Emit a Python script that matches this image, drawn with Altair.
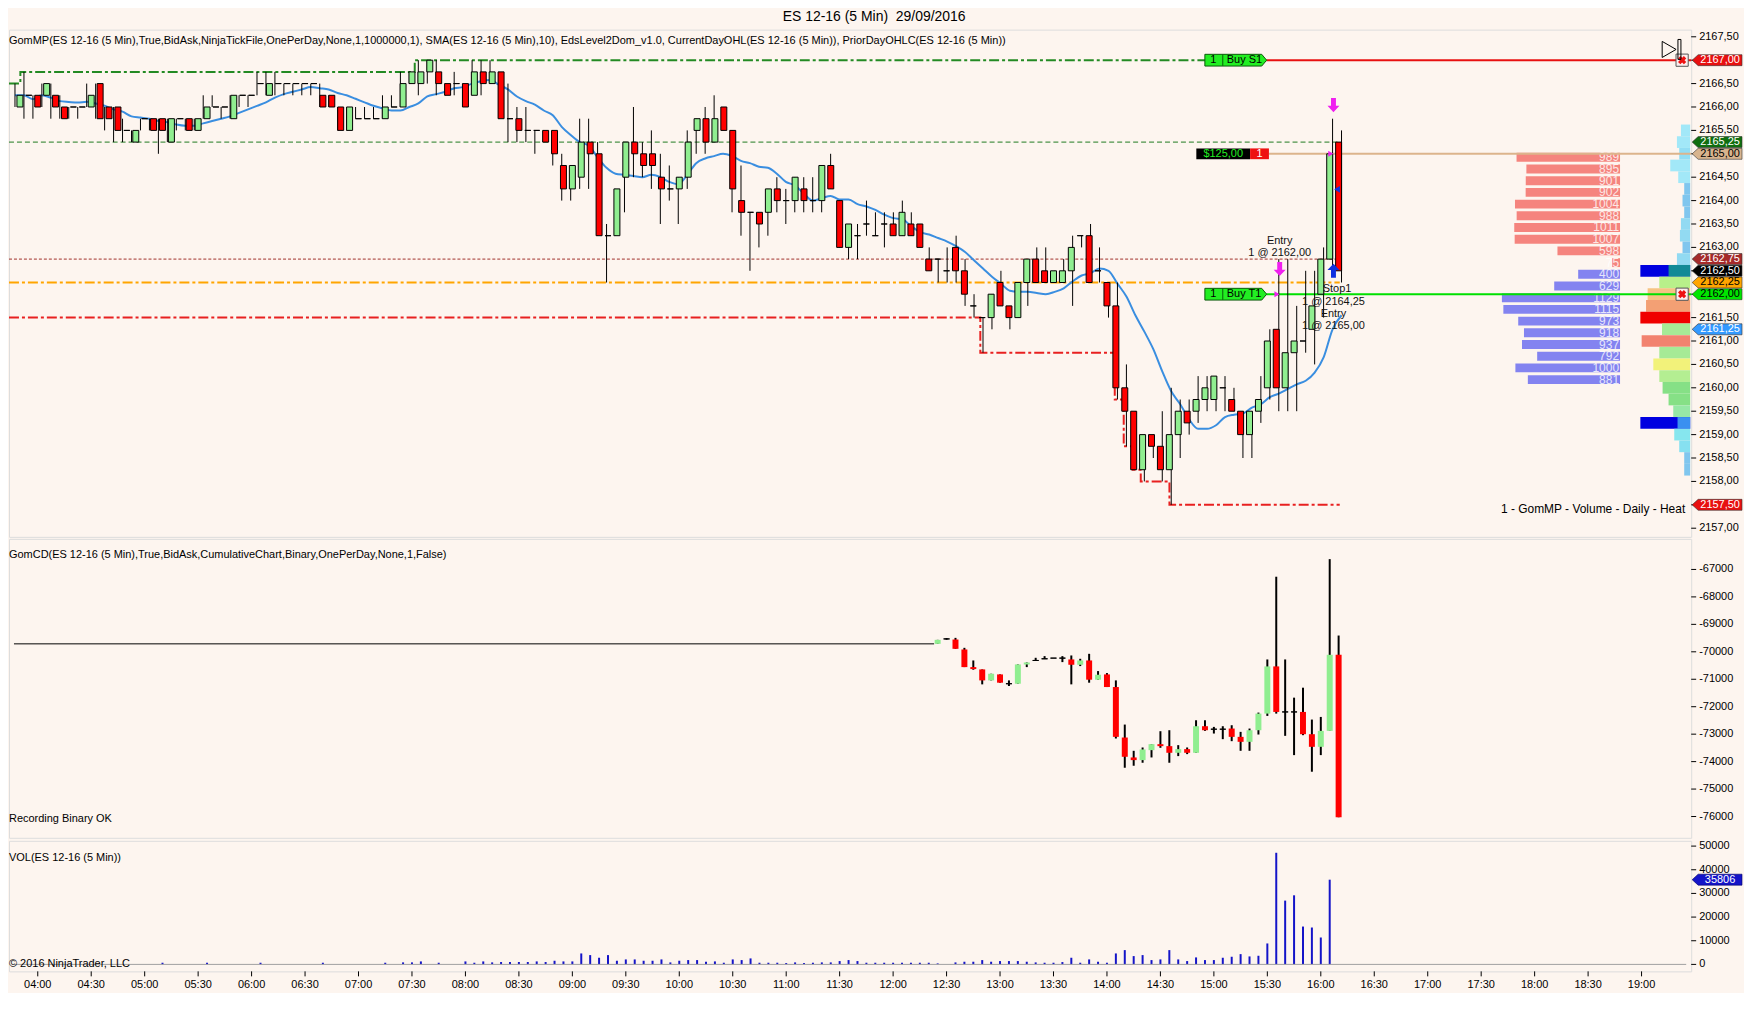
import altair as alt
import pandas as pd

# ------------------------------------------------------------------ data
TITLE = "ES 12-16 (5 Min)\u00a0 29/09/2016"
FIRST_BAR = -2          # first candle = 03:50 ; bar index 0 = 04:00, one bar = 5 minutes

price_open = [
    2166.0, 2166.25, 2166.25, 2166.25, 2166.25, 2166.0, 2166.0, 2166.0, 2166.0, 2166.5,
    2166.0, 2166.0, 2165.5, 2165.25, 2165.75, 2165.75, 2165.75, 2165.25, 2165.75, 2165.75,
    2165.5, 2165.75, 2166.0, 2166.0, 2165.75, 2166.25, 2166.25, 2166.5, 2166.25, 2166.5,
    2166.5, 2166.5, 2166.5, 2166.5, 2166.25, 2166.25, 2166.0, 2165.5, 2165.75, 2165.75,
    2165.75, 2165.75, 2166.0, 2166.0, 2166.5, 2166.5, 2166.75, 2166.75, 2166.5, 2166.5,
    2166.5, 2166.25, 2166.75, 2166.5, 2166.75, 2165.75, 2165.75, 2165.5, 2165.5, 2165.5,
    2165.5, 2164.75, 2164.25, 2164.5, 2165.25, 2165.0, 2163.25, 2163.25, 2164.5, 2165.25,
    2165.0, 2165.0, 2164.5, 2164.25, 2164.25, 2164.5, 2165.5, 2165.75, 2165.25, 2166.0,
    2165.5, 2164.0, 2163.75, 2163.75, 2163.75, 2164.25, 2164.0, 2164.0, 2164.25, 2164.0,
    2164.0, 2164.75, 2164.0, 2163.0, 2163.25, 2163.5, 2163.25, 2163.5, 2163.5, 2163.25,
    2163.5, 2163.5, 2162.75, 2162.75, 2162.5, 2163.0, 2162.5, 2161.75, 2161.5, 2161.5,
    2162.25, 2161.75, 2161.5, 2162.25, 2162.75, 2162.5, 2162.25, 2162.25, 2162.5, 2163.25,
    2163.25, 2162.5, 2162.25, 2161.75, 2160.0, 2159.5, 2158.25, 2159.0, 2158.75, 2158.25,
    2159.0, 2159.5, 2159.5, 2159.75, 2159.75, 2160.0, 2159.75, 2159.5, 2159.0, 2159.5,
    2160.0, 2161.25, 2160.0, 2160.75, 2161.0, 2161.25, 2162.0, 2162.75, 2165.25,
]
price_high = [
    2166.5, 2166.75, 2166.25, 2166.5, 2166.5, 2166.25, 2166.0, 2166.0, 2166.5, 2166.5,
    2166.0, 2166.0, 2165.75, 2165.5, 2165.75, 2165.75, 2165.75, 2165.75, 2165.75, 2165.75,
    2165.75, 2166.25, 2166.25, 2166.0, 2166.25, 2166.25, 2166.25, 2166.75, 2166.75, 2166.75,
    2166.5, 2166.5, 2166.5, 2166.5, 2166.5, 2166.25, 2166.0, 2166.0, 2166.0, 2166.0,
    2166.0, 2166.25, 2166.25, 2166.75, 2166.75, 2167.0, 2167.0, 2167.0, 2166.5, 2166.75,
    2166.5, 2167.0, 2167.0, 2167.0, 2166.75, 2166.5, 2166.0, 2166.0, 2165.5, 2165.5,
    2165.5, 2165.0, 2164.75, 2165.75, 2165.75, 2165.25, 2163.5, 2164.25, 2165.25, 2166.0,
    2165.25, 2165.5, 2165.0, 2164.75, 2164.5, 2165.5, 2165.75, 2166.0, 2166.25, 2166.0,
    2165.5, 2164.75, 2163.75, 2163.75, 2164.25, 2164.5, 2164.25, 2164.5, 2164.5, 2164.5,
    2164.75, 2165.0, 2164.0, 2163.5, 2163.5, 2164.0, 2163.75, 2163.75, 2163.75, 2164.0,
    2163.75, 2163.5, 2163.0, 2162.75, 2163.0, 2163.25, 2162.75, 2162.0, 2161.5, 2162.0,
    2162.5, 2161.75, 2162.25, 2162.75, 2163.0, 2163.0, 2162.5, 2162.75, 2163.25, 2163.25,
    2163.5, 2163.0, 2162.25, 2162.25, 2160.5, 2159.5, 2159.0, 2159.0, 2159.5, 2160.0,
    2159.75, 2159.75, 2160.25, 2160.25, 2160.25, 2160.25, 2160.0, 2159.5, 2159.5, 2160.25,
    2161.25, 2162.75, 2162.75, 2161.75, 2162.5, 2162.5, 2163.0, 2165.75, 2165.5,
]
price_low = [
    2166.0, 2165.75, 2165.75, 2166.0, 2165.75, 2165.75, 2165.75, 2165.75, 2166.0, 2165.75,
    2165.5, 2165.25, 2165.25, 2165.25, 2165.5, 2165.5, 2165.0, 2165.25, 2165.5, 2165.5,
    2165.5, 2165.75, 2166.0, 2165.75, 2165.75, 2166.0, 2166.0, 2166.25, 2166.25, 2166.25,
    2166.25, 2166.25, 2166.25, 2166.25, 2166.0, 2166.0, 2165.5, 2165.5, 2165.75, 2165.75,
    2165.75, 2165.75, 2166.0, 2166.0, 2166.5, 2166.25, 2166.5, 2166.25, 2166.25, 2166.25,
    2166.0, 2166.25, 2166.25, 2166.5, 2165.75, 2165.25, 2165.25, 2165.25, 2165.0, 2165.25,
    2164.75, 2164.0, 2164.0, 2164.25, 2164.25, 2163.25, 2162.25, 2163.25, 2163.75, 2164.5,
    2164.5, 2164.25, 2163.5, 2164.0, 2163.5, 2164.25, 2165.0, 2165.0, 2165.25, 2165.5,
    2163.75, 2163.25, 2162.5, 2163.0, 2163.25, 2163.75, 2163.5, 2163.75, 2163.75, 2163.75,
    2163.75, 2164.25, 2163.0, 2162.75, 2162.75, 2163.25, 2163.25, 2163.0, 2163.25, 2163.25,
    2163.25, 2163.0, 2162.5, 2162.25, 2162.25, 2162.25, 2161.75, 2161.5, 2160.75, 2161.25,
    2161.75, 2161.25, 2161.5, 2161.75, 2162.25, 2162.25, 2162.25, 2162.25, 2161.75, 2163.0,
    2162.25, 2162.25, 2161.5, 2159.75, 2158.75, 2158.25, 2158.0, 2158.5, 2158.0, 2157.5,
    2158.5, 2159.0, 2159.25, 2159.5, 2159.5, 2159.5, 2159.5, 2158.5, 2158.5, 2159.25,
    2159.75, 2159.5, 2159.5, 2159.5, 2160.75, 2160.5, 2161.5, 2162.5, 2162.25,
]
price_close = [
    2166.25, 2166.25, 2166.0, 2166.5, 2166.0, 2165.75, 2166.0, 2166.0, 2166.25, 2165.75,
    2165.75, 2165.5, 2165.5, 2165.5, 2165.75, 2165.5, 2165.5, 2165.75, 2165.75, 2165.5,
    2165.75, 2166.0, 2166.0, 2166.0, 2166.25, 2166.25, 2166.25, 2166.5, 2166.5, 2166.5,
    2166.5, 2166.5, 2166.5, 2166.5, 2166.0, 2166.0, 2165.5, 2166.0, 2165.75, 2165.75,
    2165.75, 2166.0, 2166.0, 2166.5, 2166.75, 2166.75, 2167.0, 2166.5, 2166.25, 2166.5,
    2166.0, 2166.75, 2166.5, 2166.75, 2165.75, 2165.75, 2165.5, 2165.5, 2165.5, 2165.25,
    2165.0, 2164.25, 2164.75, 2165.25, 2165.0, 2163.25, 2163.25, 2164.25, 2165.25, 2165.0,
    2164.75, 2164.75, 2164.25, 2164.25, 2164.5, 2165.25, 2165.75, 2165.25, 2165.75, 2165.5,
    2164.25, 2163.75, 2163.75, 2163.5, 2164.25, 2164.0, 2164.0, 2164.5, 2164.0, 2164.0,
    2164.75, 2164.25, 2163.0, 2163.5, 2163.25, 2163.5, 2163.25, 2163.5, 2163.25, 2163.75,
    2163.25, 2163.0, 2162.5, 2162.75, 2162.5, 2162.5, 2162.0, 2161.75, 2161.5, 2162.0,
    2161.75, 2161.5, 2162.25, 2162.75, 2162.25, 2162.25, 2162.5, 2162.5, 2163.0, 2163.25,
    2162.25, 2162.5, 2161.75, 2160.0, 2159.5, 2158.25, 2159.0, 2158.75, 2158.25, 2159.0,
    2159.5, 2159.25, 2159.75, 2160.0, 2160.25, 2160.0, 2159.5, 2159.0, 2159.5, 2159.75,
    2161.0, 2160.0, 2160.75, 2161.0, 2161.0, 2161.75, 2162.75, 2165.0, 2162.5,
]

# cumulative delta (GomCD) candles, recorded from bar 101 on
CD_FIRST_BAR = 101
cd_open = [
    -69710, -69530, -69552, -69915, -70557, -70641, -71041, -70823, -71162, -71162,
    -70460, -70315, -70254, -70230, -70230, -70278, -70472, -70315, -71016, -70823,
    -71283, -73122, -73848, -73945, -73582, -73364, -73436, -73678, -73545, -73678,
    -72710, -72819, -72819, -72795, -73098, -73279, -72856, -72251, -70532, -72190,
    -72190, -72190, -73001, -73461, -72880, -70109,
]
cd_high = [
    -69564, -69500, -69492, -69855, -70315, -70641, -70799, -70823, -71041, -70460,
    -70387, -70218, -70157, -70230, -70157, -70133, -70254, -70073, -70702, -70774,
    -71041, -72650, -73606, -73485, -73364, -72892, -72856, -73400, -73485, -72493,
    -72493, -72735, -72710, -72674, -72916, -72795, -72214, -70278, -67265, -70278,
    -71670, -71307, -72468, -72372, -66624, -69407,
]
cd_low = [
    -69710, -69560, -69891, -70557, -70653, -71186, -71041, -71125, -71246, -71162,
    -70557, -70315, -70254, -70230, -70375, -71186, -70520, -71125, -71016, -71283,
    -73158, -74223, -74150, -74041, -73848, -73497, -74041, -73799, -73727, -73678,
    -72880, -72977, -73182, -73255, -73606, -73606, -73013, -72335, -72251, -73061,
    -73763, -73037, -74368, -73763, -72880, -76026,
]
cd_close = [
    -69564, -69530, -69891, -70557, -70629, -71041, -70799, -71125, -71162, -70460,
    -70387, -70315, -70254, -70230, -70230, -70472, -70315, -71016, -70835, -71283,
    -73098, -73824, -73945, -73557, -73364, -73436, -73678, -73545, -73678, -72710,
    -72856, -72819, -72819, -73098, -73279, -72856, -72251, -70532, -72190, -72190,
    -72190, -73001, -73461, -72880, -70109, -76026,
]
cd_pre_level = -69710     # flat value before recording starts
cd_pre_end = 100.6

volume = [
    0, 0, 0, 0, 0, 0, 0, 0, 0, 0,
    0, 0, 0, 0, 0, 0, 700, 0, 0, 0,
    0, 700, 0, 0, 0, 0, 0, 700, 0, 0,
    0, 0, 0, 0, 700, 0, 0, 0, 0, 0,
    0, 700, 0, 850, 850, 1260, 0, 700, 0, 0,
    1260, 700, 1260, 850, 1000, 1000, 1000, 1000, 1260, 1000,
    1540, 1260, 1260, 4630, 3930, 2810, 3930, 1540, 2100, 2100,
    1540, 1540, 2106, 842, 1545, 1825, 1825, 1123, 1263, 702,
    2106, 1825, 2527, 702, 702, 702, 562, 842, 562, 702,
    842, 842, 1404, 1825, 1404, 702, 702, 702, 702, 702,
    702, 702, 702, 421, 0, 842, 1123, 1123, 1825, 1123,
    1404, 1404, 1404, 1123, 842, 702, 702, 983, 2808, 702,
    2106, 1123, 702, 4633, 6037, 3510, 3931, 1825, 2106, 6037,
    2106, 1404, 2949, 1825, 1825, 2808, 3229, 4340, 3370, 3650,
    8850, 47180, 26960, 29200, 16000, 15590, 11370, 35806, 0,
]

# level-2 ladder (EdsLevel2Dom)
ask_prices = [2165.0, 2164.75, 2164.5, 2164.25, 2164.0, 2163.75, 2163.5, 2163.25, 2163.0, 2162.75]
ask_sizes = [989, 895, 901, 902, 1004, 988, 1011, 1007, 598, 75]
bid_prices = [2162.5, 2162.25, 2162.0, 2161.75, 2161.5, 2161.25, 2161.0, 2160.75, 2160.5, 2160.25]
bid_sizes = [400, 629, 1129, 1115, 973, 918, 937, 792, 1000, 881]

# daily volume profile (GomMP heat)
heat_prices = [2165.5, 2165.25, 2165.0, 2164.75, 2164.5, 2164.25, 2164.0, 2163.75, 2163.5, 2163.25,
               2163.0, 2162.75, 2162.5, 2162.25, 2162.0, 2161.75, 2161.5, 2161.25, 2161.0, 2160.75,
               2160.5, 2160.25, 2160.0, 2159.75, 2159.5, 2159.25, 2159.0, 2158.75, 2158.5, 2158.25]
heat_volume = [930, 1330, 1100, 2000, 1200, 600, 770, 600, 930, 1030,
               770, 1330, 2170, 3100, 4270, 4430, 5000, 2830, 4870, 3100,
               3700, 3100, 2770, 2170, 1700, 1270, 1600, 1100, 600, 600]
heat_colors = ["#a2e8f8", "#a2e8f8", "#92def4", "#a2e8f8", "#a2e8f8", "#80c6ee", "#80c6ee", "#80c6ee", "#92daf2", "#92daf2",
               "#80c6ee", "#92daf2", "#128a96", "#b8f08a", "#f6c383", "#f3a074", "#f00000", "#a6ea96", "#f2826f", "#a6ea96",
               "#f2f27a", "#b4ee92", "#86e086", "#86e086", "#96e8a6", "#3a90f0", "#86e6ee", "#86e0f0", "#80c6ee", "#80c6ee"]
heat_marker_prices = [2162.5, 2159.25]
heat_marker_volume = [5000, 5000]

# price levels
day_high_bars = [-2.668, -1.4, 42.6, 137.5]
day_high_prices = [2166.5, 2166.75, 2167.0, 2167.0]
day_low_bars = [-2.668, 105.7, 120.7, 121.7, 122.7, 123.6, 126.8, 145.8]
day_low_prices = [2161.5, 2160.75, 2159.75, 2158.75, 2158.25, 2158.0, 2157.5, 2157.5]
prior_level_prices = [2165.25, 2162.75, 2162.25]
level_end_bar = 145.8

order_prices = [2167.0, 2162.0]
order_names = ["Buy S1", "Buy T1"]
order_colors = ["#e81010", "#00e000"]
position_price = 2165.0
position_pnl = "$125,00"

exec_text = ["Entry", "1 @ 2162,00", "Stop1", "1 @ 2164,25", "Entry", "1 @ 2165,00"]
exec_bar = [139.1, 139.1, 145.5, 145.1, 145.1, 145.1]
exec_price = [2163.13, 2162.87, 2162.11, 2161.84, 2161.58, 2161.33]

axis_tag_prices = [2167.0, 2165.25, 2165.0, 2162.75, 2162.5, 2162.25, 2162.0, 2161.25, 2157.5]
axis_tag_fill = ["#e81010", "#0f6e0f", "#d8b48e", "#a52a2a", "#000000", "#ffa500", "#00e600", "#3399ff", "#e81010"]
axis_tag_ink = ["white", "white", "black", "white", "white", "black", "black", "white", "white"]
last_volume = 35806

price_axis_values = [2157.0, 2158.0, 2158.5, 2159.0, 2159.5, 2160.0, 2160.5, 2161.0, 2161.5,
                     2163.0, 2163.5, 2164.0, 2164.5, 2165.5, 2166.0, 2166.5, 2167.5]
price_tick_values = [2157.0 + 0.5 * k for k in range(22)]
cd_axis_values = list(range(-76000, -66999, 1000))
vol_axis_values = [0, 10000, 20000, 30000, 40000, 50000]
time_tick_values = list(range(0, 181, 6))

HEADER_PRICE = ("GomMP(ES 12-16 (5 Min),True,BidAsk,NinjaTickFile,OnePerDay,None,1,1000000,1), "
                "SMA(ES 12-16 (5 Min),10), EdsLevel2Dom_v1.0, CurrentDayOHL(ES 12-16 (5 Min)), "
                "PriorDayOHLC(ES 12-16 (5 Min))")
HEADER_CD = "GomCD(ES 12-16 (5 Min),True,BidAsk,CumulativeChart,Binary,OnePerDay,None,1,False)"
HEADER_VOL = "VOL(ES 12-16 (5 Min))"

# ------------------------------------------------------------------ layout / style
W = 1688
H_PRICE, H_CD, H_VOL = 509, 300, 131
X0, X1 = -2.668, 185.01
P_DOM = [2156.815, 2167.653]
CD_DOM = [-76776, -65886]
V_DOM = [-2950, 52233]
LADDER_DOM = [15397, -680]
HEAT_DOM = [168700, -100]
FONT = "Liberation Sans"
BG = "#fdf5ef"
UP = "#90ee90"
DOWN = "#ff0000"
SMA_COLOR = "#3a8ee0"
VOL_COLOR = "#1414c8"
MAGENTA = "#f020f0"

TAG_LEFT = "M-1,0L-0.76,-0.22L1,-0.22L1,0.22L-0.76,0.22Z"
TAG_RIGHT = "M-1,-0.19L0.84,-0.19L1,0L0.84,0.19L-1,0.19Z"
ARROW_DOWN = "M-0.35,-1L0.35,-1L0.35,0.1L0.85,0.1L0,1L-0.85,0.1L-0.35,0.1Z"
ARROW_UP = "M-0.35,1L0.35,1L0.35,-0.1L0.85,-0.1L0,-1L-0.85,-0.1L-0.35,-0.1Z"
BAR_ICON = "M-0.15,-1L0.15,-1L0.15,1L-0.15,1Z"

ORDER_TAG_I = 134.2
ORDER_LINE_START = 137.6
POS_BOX = (129.8, 135.8, 137.9)
ICON_I = 184.0

XS = alt.Scale(domain=[X0, X1], nice=False, zero=False)
PS = alt.Scale(domain=P_DOM, nice=False, zero=False)
CS = alt.Scale(domain=CD_DOM, nice=False, zero=False)
VS = alt.Scale(domain=V_DOM, nice=False, zero=False)


def xq(field):
    return alt.X(f"{field}:Q", scale=XS, axis=None)


def yp(field):
    return alt.Y(f"{field}:Q", scale=PS, axis=None)


def yc(field):
    return alt.Y(f"{field}:Q", scale=CS, axis=None)


def yv(field):
    return alt.Y(f"{field}:Q", scale=VS, axis=None)


def text_at(txt, x, y, size=11, align="left", color="black"):
    return alt.Chart(pd.DataFrame({"t": [txt]})).mark_text(
        align=align, baseline="middle", font=FONT, fontSize=size, color=color
    ).encode(text="t:N", x=alt.value(x), y=alt.value(y))


def right_axis_layers(values, ychan, label_expr, tick_values=None):
    """tick marks + labels on the right edge, placed through the panel's y scale"""
    tick_df = pd.DataFrame({"v": tick_values if tick_values is not None else values})
    lab_df = pd.DataFrame({"v": values})
    ticks = alt.Chart(tick_df).mark_rule(color="black", strokeWidth=1).encode(
        x=alt.value(W), x2=alt.value(W + 5), y=ychan("v"))
    labels = alt.Chart(lab_df).transform_calculate(t=label_expr).mark_text(
        align="left", baseline="middle", font=FONT, fontSize=11, color="black").encode(
        x=alt.value(W + 8), y=ychan("v"), text="t:N")
    return [ticks, labels]


bars = list(range(FIRST_BAR, FIRST_BAR + len(price_open)))
price_df = pd.DataFrame({"i": bars, "o": price_open, "h": price_high, "l": price_low, "c": price_close})
is_up = "datum.c >= datum.o"

# ------------------------------------------------------------------ price panel
heat_df = pd.DataFrame({"p": heat_prices, "v": heat_volume, "col": heat_colors})
heat_mark_df = pd.DataFrame({"p": heat_marker_prices, "v": heat_marker_volume})
HX = alt.Scale(domain=HEAT_DOM, nice=False, zero=False)
heat_markers = alt.Chart(heat_mark_df).transform_calculate(
    top="datum.p + 0.125", bot="datum.p - 0.125", z="0"
).mark_rect(color="#0000e0").encode(x=alt.X("v:Q", scale=HX, axis=None), x2="z:Q", y=yp("top"), y2="bot:Q")
heat = alt.Chart(heat_df).transform_calculate(
    top="datum.p + 0.125", bot="datum.p - 0.125", z="0"
).mark_rect().encode(x=alt.X("v:Q", scale=HX, axis=None), x2="z:Q", y=yp("top"), y2="bot:Q",
                     color=alt.Color("col:N", scale=None))

ladder_df = pd.DataFrame({"p": ask_prices + bid_prices, "v": ask_sizes + bid_sizes,
                          "side": ["ask"] * len(ask_sizes) + ["bid"] * len(bid_sizes)})
LX = alt.Scale(domain=LADDER_DOM, nice=False, zero=False)
ladder_base = alt.Chart(ladder_df).transform_calculate(
    top="datum.p + 0.02", bot="datum.p - 0.17", mid="datum.p - 0.075", z="0")
ladder_bars = ladder_base.mark_rect().encode(
    x=alt.X("v:Q", scale=LX, axis=None), x2="z:Q", y=yp("top"), y2="bot:Q",
    color=alt.Color("side:N", scale=alt.Scale(domain=["ask", "bid"], range=["#f5847e", "#8383f0"]), legend=None))
ladder_text = ladder_base.mark_text(align="right", baseline="middle", dx=-1, font=FONT, fontSize=12,
                                    color="white", opacity=0.8).encode(
    x=alt.X("z:Q", scale=LX, axis=None), y=yp("mid"), text="v:Q")

lev_df = pd.DataFrame({"p": prior_level_prices})
lev_base = alt.Chart(lev_df).transform_calculate(x0=str(X0), x1=str(level_end_bar))
lev_green = lev_base.transform_filter("datum.p == 2165.25").mark_rule(
    color="#1f7a1f", strokeWidth=1, strokeDash=[5, 3]).encode(x=xq("x0"), x2="x1:Q", y=yp("p"))
lev_maroon = lev_base.transform_filter("datum.p == 2162.75").mark_rule(
    color="#a0302a", strokeWidth=1, strokeDash=[3, 2]).encode(x=xq("x0"), x2="x1:Q", y=yp("p"))
lev_orange = lev_base.transform_filter("datum.p == 2162.25").mark_rule(
    color="#ffa500", strokeWidth=2, strokeDash=[10, 3, 3, 3]).encode(x=xq("x0"), x2="x1:Q", y=yp("p"))

day_high = alt.Chart(pd.DataFrame({"i": day_high_bars, "p": day_high_prices})).mark_line(
    interpolate="step-after", color="#238a23", strokeWidth=2, strokeDash=[10, 3, 3, 3]
).encode(x=xq("i"), y=yp("p"))
day_low = alt.Chart(pd.DataFrame({"i": day_low_bars, "p": day_low_prices})).mark_line(
    interpolate="step-after", color="#e82020", strokeWidth=2, strokeDash=[10, 3, 3, 3]
).encode(x=xq("i"), y=yp("p"))

ord_df = pd.DataFrame({"p": order_prices, "name": order_names, "col": order_colors})
ord_lines = alt.Chart(ord_df).transform_calculate(x0=str(ORDER_LINE_START), x1=str(X1)).mark_rule(
    strokeWidth=2).encode(x=xq("x0"), x2="x1:Q", y=yp("p"), color=alt.Color("col:N", scale=None))
pos_line = alt.Chart(pd.DataFrame({"p": [position_price]})).transform_calculate(
    x0=str(POS_BOX[2]), x1=str(X1)).mark_rule(color="#dcb48c", strokeWidth=2).encode(
    x=xq("x0"), x2="x1:Q", y=yp("p"))

sma = alt.Chart(price_df).transform_window(
    sma="mean(c)", frame=[-9, 0], sort=[alt.SortField("i")]
).mark_line(color=SMA_COLOR, strokeWidth=2, interpolate="monotone").encode(x=xq("i"), y=yp("sma"))

wicks = alt.Chart(price_df).mark_rule(color="black", strokeWidth=1).encode(
    x=xq("i"), y=yp("l"), y2="h:Q")
bodies = alt.Chart(price_df).mark_bar(size=6, stroke="black", strokeWidth=1).encode(
    x=xq("i"), y=yp("o"), y2="c:Q", color=alt.condition(is_up, alt.value(UP), alt.value(DOWN)))

ord_tag = alt.Chart(ord_df).transform_calculate(i=str(ORDER_TAG_I)).mark_point(
    shape=TAG_RIGHT, size=3844, filled=True, fill="#22ee22", stroke="#0a5a0a", strokeWidth=1, opacity=1
).encode(x=xq("i"), y=yp("p"))
ord_qty = alt.Chart(ord_df).transform_calculate(i=str(ORDER_TAG_I - 2.5), q="'1'").mark_text(
    font=FONT, fontSize=11, color="black", baseline="middle").encode(x=xq("i"), y=yp("p"), text="q:N")
ord_div = alt.Chart(ord_df).transform_calculate(
    i=str(ORDER_TAG_I - 1.45), a="datum.p - 0.12", b="datum.p + 0.12").mark_rule(
    color="#0a5a0a", strokeWidth=1).encode(x=xq("i"), y=yp("a"), y2="b:Q")
ord_name = alt.Chart(ord_df).transform_calculate(i=str(ORDER_TAG_I - 1.0)).mark_text(
    font=FONT, fontSize=11, color="black", baseline="middle", align="left").encode(
    x=xq("i"), y=yp("p"), text="name:N")

pos_df = pd.DataFrame({"p": [position_price], "pnl": [position_pnl], "q": ["1"]})
pos_black = alt.Chart(pos_df).transform_calculate(
    x0=str(POS_BOX[0]), x1=str(POS_BOX[1]), a="datum.p - 0.115", b="datum.p + 0.115").mark_rect(
    color="black").encode(x=xq("x0"), x2="x1:Q", y=yp("a"), y2="b:Q")
pos_red = alt.Chart(pos_df).transform_calculate(
    x0=str(POS_BOX[1]), x1=str(POS_BOX[2]), a="datum.p - 0.115", b="datum.p + 0.115").mark_rect(
    color="#ee1111").encode(x=xq("x0"), x2="x1:Q", y=yp("a"), y2="b:Q")
pos_pnl = alt.Chart(pos_df).transform_calculate(i=str((POS_BOX[0] + POS_BOX[1]) / 2)).mark_text(
    font=FONT, fontSize=11, color="#22ee22", baseline="middle").encode(x=xq("i"), y=yp("p"), text="pnl:N")
pos_q = alt.Chart(pos_df).transform_calculate(i=str((POS_BOX[1] + POS_BOX[2]) / 2)).mark_text(
    font=FONT, fontSize=11, color="white", baseline="middle").encode(x=xq("i"), y=yp("p"), text="q:N")

exec_df = pd.DataFrame({"i": exec_bar, "p": exec_price, "t": exec_text})
exec_labels = alt.Chart(exec_df).mark_text(font=FONT, fontSize=11, color="#111111", baseline="middle").encode(
    x=xq("i"), y=yp("p"), text="t:N")
arrows_down = alt.Chart(pd.DataFrame({"i": [139.1, 145.1], "p": [2162.54, 2166.04]})).mark_point(
    shape=ARROW_DOWN, size=200, filled=True, fill=MAGENTA, strokeWidth=0, opacity=1).encode(x=xq("i"), y=yp("p"))
arrow_up = alt.Chart(pd.DataFrame({"i": [145.1], "p": [2162.5]})).mark_point(
    shape=ARROW_UP, size=200, filled=True, fill="#1030e0", strokeWidth=0, opacity=1).encode(x=xq("i"), y=yp("p"))
tri_right = alt.Chart(pd.DataFrame({"i": [144.8, 138.8], "p": [2165.0, 2162.0]})).mark_point(
    shape="triangle-right", size=35, filled=True, fill=MAGENTA, strokeWidth=0, opacity=1).encode(x=xq("i"), y=yp("p"))
tri_left = alt.Chart(pd.DataFrame({"i": [145.5], "p": [2164.24]})).mark_point(
    shape="triangle-left", size=45, filled=True, fill="#1030e0", strokeWidth=0, opacity=1).encode(x=xq("i"), y=yp("p"))

icon_df = pd.DataFrame({"p": order_prices})
icon_box = alt.Chart(icon_df).transform_calculate(i=str(ICON_I)).mark_point(
    shape="square", size=150, filled=True, fill="#fbeeee", stroke="#555555", strokeWidth=1, opacity=1
).encode(x=xq("i"), y=yp("p"))
icon_x = alt.Chart(icon_df).transform_calculate(i=str(ICON_I)).mark_point(
    shape="cross", angle=45, size=70, filled=True, fill="#ee1111", strokeWidth=0, opacity=1
).encode(x=xq("i"), y=yp("p"))
icon_play = alt.Chart(pd.DataFrame({"p": [2167.23]})).transform_calculate(i=str(ICON_I - 1.45)).mark_point(
    shape="triangle-right", size=260, filled=False, stroke="black", strokeWidth=1, opacity=1
).encode(x=xq("i"), y=yp("p"))
icon_bar = alt.Chart(pd.DataFrame({"p": [2167.23]})).transform_calculate(i=str(ICON_I - 0.3)).mark_point(
    shape=BAR_ICON, size=400, filled=False, stroke="black", strokeWidth=1, opacity=1
).encode(x=xq("i"), y=yp("p"))

tag_df = pd.DataFrame({"p": axis_tag_prices, "fill": axis_tag_fill, "ink": axis_tag_ink,
                       "t": [f"{p:.2f}".replace(".", ",") for p in axis_tag_prices]})
tag_shape = alt.Chart(tag_df).mark_point(shape=TAG_LEFT, size=2500, filled=True, stroke="#333333",
                                          strokeWidth=0.6, opacity=1).encode(
    x=alt.value(W + 26), y=yp("p"), fill=alt.Fill("fill:N", scale=None))
tag_text = alt.Chart(tag_df).mark_text(font=FONT, fontSize=11, baseline="middle").encode(
    x=alt.value(W + 29), y=yp("p"), text="t:N", color=alt.Color("ink:N", scale=None))

price_chart = alt.layer(
    *right_axis_layers(price_axis_values, yp, "replace(format(datum.v, '.2f'), '.', ',')", price_tick_values),
    heat_markers, heat, ladder_bars, ladder_text,
    lev_green, lev_maroon, lev_orange, day_high, day_low,
    ord_lines, pos_line, sma, wicks, bodies,
    ord_tag, ord_div, ord_qty, ord_name, pos_black, pos_red, pos_pnl, pos_q,
    exec_labels, arrows_down, arrow_up, tri_right, tri_left,
    icon_box, icon_x, icon_play, icon_bar, tag_shape, tag_text,
    text_at(HEADER_PRICE, 0, 11),
    text_at("1 - GomMP  - Volume - Daily - Heat", W - 6, 481, size=12, align="right"),
).resolve_scale(x="independent").properties(width=W, height=H_PRICE)

# ------------------------------------------------------------------ cumulative delta panel
cd_df = pd.DataFrame({"i": list(range(CD_FIRST_BAR, CD_FIRST_BAR + len(cd_open))),
                      "o": cd_open, "h": cd_high, "l": cd_low, "c": cd_close})
cd_wicks = alt.Chart(cd_df).mark_rule(color="black", strokeWidth=2).encode(
    x=xq("i"), y=yc("l"), y2="h:Q")
cd_pre = alt.Chart(pd.DataFrame({"v": [cd_pre_level]})).transform_calculate(
    x0=str(X0), x1=str(cd_pre_end)).mark_rule(color="black", strokeWidth=1).encode(
    x=xq("x0"), x2="x1:Q", y=yc("v"))
cd_bodies = alt.Chart(cd_df).mark_bar(size=6, stroke="black", strokeWidth=1).encode(
    x=xq("i"), y=yc("o"), y2="c:Q",
    color=alt.condition(is_up, alt.value(UP), alt.value(DOWN)),
    strokeOpacity=alt.condition("datum.o == datum.c", alt.value(1), alt.value(0)))
cd_chart = alt.layer(
    *right_axis_layers(cd_axis_values, yc, "'' + datum.v"),
    cd_wicks, cd_pre, cd_bodies,
    text_at(HEADER_CD, 0, 16),
    text_at("Recording Binary OK", 0, 281),
).properties(width=W, height=H_CD)

# ------------------------------------------------------------------ volume panel
vol_df = pd.DataFrame({"i": bars, "v": volume})
vol_bars = alt.Chart(vol_df).transform_filter("datum.v > 0").transform_calculate(z="0").mark_bar(
    size=2, color=VOL_COLOR).encode(x=xq("i"), y=yv("v"), y2="z:Q")
vol_base_line = alt.Chart(pd.DataFrame({"v": [0]})).transform_calculate(x0=str(X0), x1=str(X1)).mark_rule(
    color="#a0a0a0", strokeWidth=1).encode(x=xq("x0"), x2="x1:Q", y=yv("v"))
vtag_df = pd.DataFrame({"v": [last_volume], "t": [str(last_volume)]})
vol_tag = alt.Chart(vtag_df).mark_point(shape=TAG_LEFT, size=2500, filled=True, fill="#1414c8",
                                        stroke="#000066", strokeWidth=0.6, opacity=1).encode(
    x=alt.value(W + 26), y=yv("v"))
vol_tag_text = alt.Chart(vtag_df).mark_text(font=FONT, fontSize=11, baseline="middle", color="white").encode(
    x=alt.value(W + 29), y=yv("v"), text="t:N")

time_df = pd.DataFrame({"i": time_tick_values})
time_ticks = alt.Chart(time_df).mark_rule(color="black", strokeWidth=1).encode(
    x=xq("i"), y=alt.value(H_VOL), y2=alt.value(H_VOL + 5))
time_labels = alt.Chart(time_df).transform_calculate(
    t="timeFormat(datetime(2016, 8, 29, 4, datum.i * 5), '%H:%M')"
).mark_text(font=FONT, fontSize=11, color="black", baseline="middle", align="center").encode(
    x=xq("i"), y=alt.value(H_VOL + 14), text="t:N")

vol_chart = alt.layer(
    *right_axis_layers(vol_axis_values, yv, "'' + datum.v"),
    vol_bars, vol_base_line, vol_tag, vol_tag_text, time_ticks, time_labels,
    text_at(HEADER_VOL, 0, 17),
    text_at("\u00a9 2016 NinjaTrader, LLC", 0, 124),
).properties(width=W, height=H_VOL)

chart = alt.vconcat(
    price_chart, cd_chart, vol_chart, spacing=0,
    title=alt.TitleParams(TITLE, fontSize=14, font=FONT, fontWeight="normal", color="black",
                          anchor="middle", frame="bounds", offset=5),
    padding={"left": -4, "top": 0, "right": 0, "bottom": 0},
).configure_view(stroke="black", strokeWidth=1).configure(background=BG)

chart.save("out.html", embed_options={"renderer": "svg", "actions": False})
